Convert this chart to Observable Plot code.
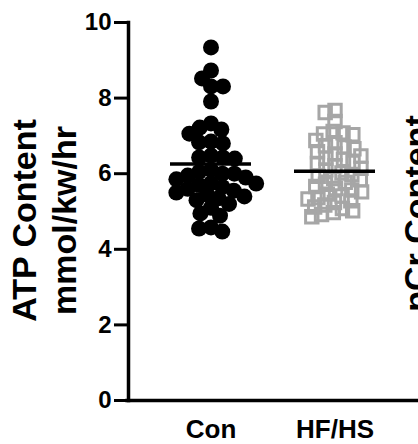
<!DOCTYPE html>
<html>
<head>
<meta charset="utf-8">
<script src="https://cdn.jsdelivr.net/npm/d3@7"></script>
<script src="https://cdn.jsdelivr.net/npm/@observablehq/plot@0.6"></script>
<style>
  html, body { margin: 0; padding: 0; background: white; }
</style>
</head>
<body>
<div id="chart"></div>
<script>
const groups = ["Con", "HF/HS"];
const conValues = [9.34, 8.73, 8.52, 8.31, 8.31, 7.91, 7.33, 7.22, 7.17, 7.06, 6.85, 6.83, 6.8,
  6.48, 6.43, 6.43, 6.4, 6.1, 6.05, 6.0, 6.0, 5.95, 5.9, 5.85, 5.75, 5.74, 5.7, 5.65, 5.6,
  5.55, 5.5, 5.45, 5.4, 5.35, 5.3, 5.2, 5.1, 4.95, 4.89, 4.58, 4.55, 4.47];
const hfValues = [7.67, 7.62, 7.38, 7.12, 7.08, 7.05, 7.03, 6.88, 6.82, 6.74, 6.71, 6.66, 6.58,
  6.52, 6.47, 6.41, 6.38, 6.3, 6.27, 6.21, 6.14, 6.1, 6.02, 5.98, 5.93, 5.87, 5.84, 5.77, 5.72,
  5.66, 5.61, 5.57, 5.52, 5.46, 5.41, 5.37, 5.33, 5.28, 5.24, 5.17, 5.12, 5.08, 5.02, 4.97, 4.92, 4.86];
const yTicks = [0, 2, 4, 6, 8, 10];
const yLabelLines = ["ATP Content", "mmol/kw/hr"];
const nextPanelLabel = "pCr Content";

const con = conValues.map(value => ({group: groups[0], value}));
const hf = hfValues.map(value => ({group: groups[1], value}));
const all = con.concat(hf);

const font = '"Liberation Sans", Arial, sans-serif';

const chart = Plot.plot({
  width: 418,
  height: 444,
  marginLeft: 127,
  marginRight: 0,
  marginTop: 22,
  marginBottom: 44,
  style: {fontFamily: font, background: "white", color: "black"},
  fx: {domain: groups, paddingInner: 0.2, paddingOuter: 0.264, align: 0.5, label: null},
  y: {domain: [0, 10]},
  marks: [
    Plot.dot(con, Plot.dodgeX({anchor: "middle", padding: -4},
      {fx: "group", y: "value", r: 8, fill: "black", stroke: "none"})),
    Plot.dot(hf, Plot.dodgeX({anchor: "middle", padding: -4},
      {fx: "group", y: "value", r: 7, symbol: "square", fill: "none", stroke: "#a6a6a6", strokeWidth: 3})),
    Plot.ruleY(all, Plot.groupZ({y: "mean"},
      {fx: "group", y: "value", insetLeft: 9, insetRight: 9, stroke: "black", strokeWidth: 3.5})),
    Plot.axisY({ticks: yTicks, tickSize: 14, tickPadding: 3, dx: -33, fontSize: 24, fontWeight: "bold",
      strokeWidth: 3, tickFormat: d => String(d), label: null}),
    Plot.axisFx({anchor: "bottom", tickSize: 0, tickPadding: 19, fontSize: 26, fontWeight: "bold", label: null}),
    Plot.frame({anchor: "left", facet: "super", dx: -33, strokeWidth: 3.5}),
    Plot.frame({anchor: "bottom", facet: "super", insetLeft: -34.5, insetRight: -40, strokeWidth: 3.5}),
    Plot.text([yLabelLines.join("\n")], {text: d => d, frameAnchor: "left", textAnchor: "middle",
      rotate: -90, dx: -118, dy: 9, lineHeight: 1.18, fontSize: 34, fontWeight: "bold", facet: "super"}),
    Plot.text([nextPanelLabel], {text: d => d, frameAnchor: "right", textAnchor: "middle",
      rotate: -90, dx: 43, dy: 2, lineAnchor: "bottom", fontSize: 34, fontWeight: "bold", facet: "super"})
  ]
});
document.getElementById("chart").appendChild(chart);
</script>
</body>
</html>
